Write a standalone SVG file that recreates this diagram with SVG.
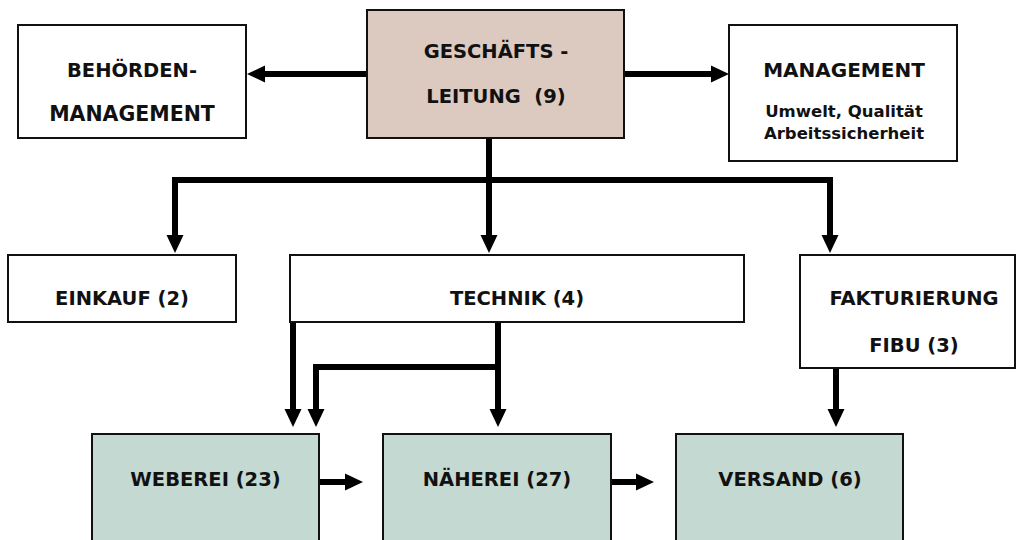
<svg xmlns="http://www.w3.org/2000/svg" width="1018" height="540" viewBox="0 0 1018 540">
<style>
.box{fill:#ffffff;stroke:#111111;stroke-width:2}
.lead{fill:#dccac0;stroke:#111111;stroke-width:2}
.prod{fill:#c4d9d1;stroke:#111111;stroke-width:2}
.t{font-family:"DejaVu Sans",sans-serif;font-weight:bold;font-size:19.5px;fill:#111111;text-anchor:middle}
.s{font-family:"DejaVu Sans",sans-serif;font-weight:bold;font-size:16.5px;fill:#111111;text-anchor:middle}
.c{fill:none;stroke:#000000;stroke-width:6;stroke-linejoin:miter;marker-end:url(#ah)}
.c2{fill:none;stroke:#000000;stroke-width:6}
</style>
<defs>
<marker id="ah" markerUnits="userSpaceOnUse" markerWidth="18" markerHeight="18" refX="0" refY="8.5" orient="auto" overflow="visible">
<path d="M0,0 L18,8.5 L0,17 Z" fill="#000000"/>
</marker>
</defs>
<rect width="1018" height="540" fill="#ffffff"/>
<g id="connectors">
<path class="c" d="M367,74 L265,74"/>
<path class="c" d="M624,74 L711,74"/>
<path class="c" d="M489,138 L489,235"/>
<path class="c" d="M489,180 L175,180 L175,235"/>
<path class="c" d="M489,180 L830,180 L830,235"/>
<path class="c" d="M293,322 L293,409"/>
<path class="c" d="M498,322 L498,409"/>
<path class="c" d="M498,367 L316,367 L316,409"/>
<path class="c" d="M836,368 L836,409"/>
<path class="c" d="M319,482 L345,482"/>
<path class="c" d="M611,482 L636,482"/>
</g>
<g id="geschaeftsleitung">
<rect class="lead" x="367" y="10" width="257" height="128"/>
<text class="t" x="496" y="58">GESCHÄFTS -</text>
<text class="t" x="496" y="103" xml:space="preserve">LEITUNG  (9)</text>
</g>
<g id="behoerden">
<rect class="box" x="18" y="25" width="228" height="113"/>
<text class="t" x="132" y="77">BEHÖRDEN-</text>
<text class="t" x="132" y="121" style="font-size:20.5px">MANAGEMENT</text>
</g>
<g id="management">
<rect class="box" x="729" y="25" width="228" height="136"/>
<text class="t" x="844" y="77" style="font-size:20px">MANAGEMENT</text>
<text class="s" x="844" y="117">Umwelt, Qualität</text>
<text class="s" x="844" y="139">Arbeitssicherheit</text>
</g>
<g id="einkauf">
<rect class="box" x="8" y="255" width="228" height="67"/>
<text class="t" x="122" y="305">EINKAUF (2)</text>
</g>
<g id="technik">
<rect class="box" x="290" y="255" width="454" height="67"/>
<text class="t" x="517" y="305">TECHNIK (4)</text>
</g>
<g id="fakturierung">
<rect class="box" x="800" y="255" width="215" height="113"/>
<text class="t" x="914" y="305">FAKTURIERUNG</text>
<text class="t" x="914" y="352">FIBU (3)</text>
</g>
<g id="weberei">
<rect class="prod" x="92" y="434" width="227" height="112"/>
<text class="t" x="205.5" y="486">WEBEREI (23)</text>
</g>
<g id="naeherei">
<rect class="prod" x="383" y="434" width="228" height="112"/>
<text class="t" x="497" y="486">NÄHEREI (27)</text>
</g>
<g id="versand">
<rect class="prod" x="676" y="434" width="227" height="112"/>
<text class="t" x="790" y="486">VERSAND (6)</text>
</g>
</svg>
